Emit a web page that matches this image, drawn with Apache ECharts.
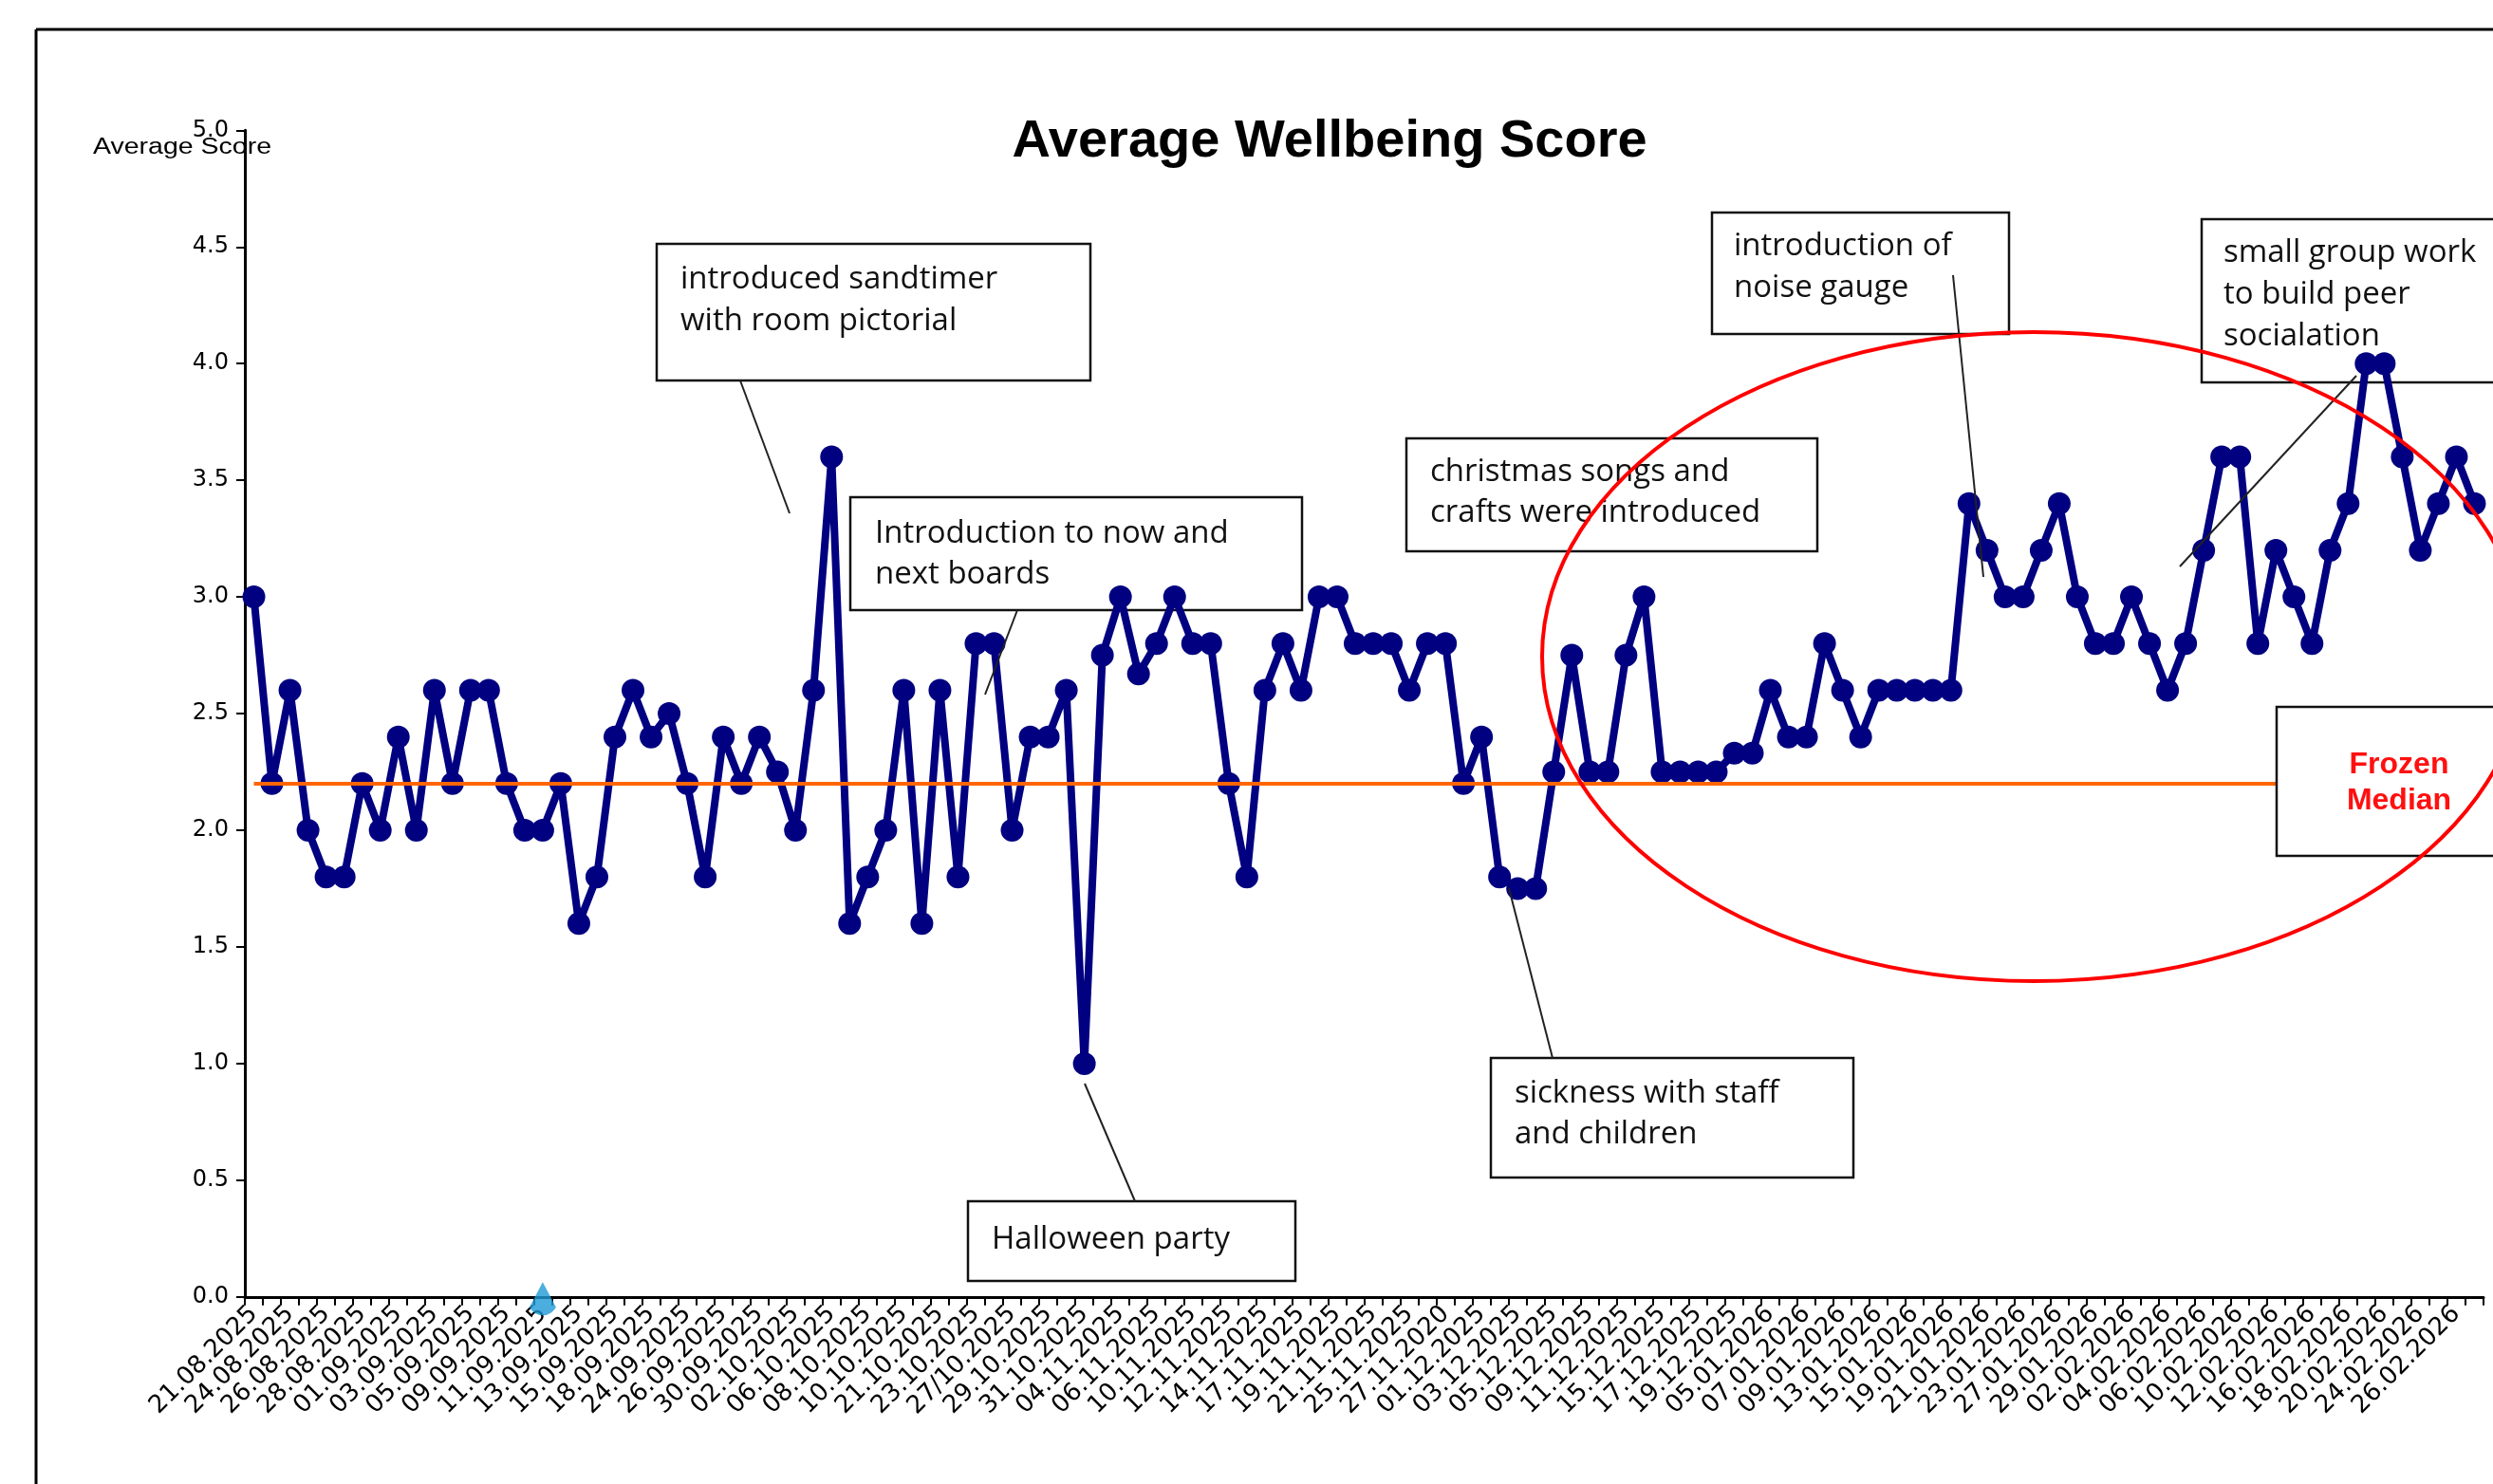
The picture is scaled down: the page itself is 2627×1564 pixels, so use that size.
<!DOCTYPE html>
<html><head><meta charset="utf-8">
<script src="https://cdn.jsdelivr.net/npm/echarts@6/dist/echarts.min.js"></script>
<style>html,body{margin:0;padding:0;background:#fff}#c{width:2627px;height:1564px}</style>
</head><body><div id="c"></div>
<script>
// ---------------- data ----------------
const chartTitle = 'Average Wellbeing Score';
const yAxisTitle = 'Average Score';
// labels shown on every second category (Excel skipped the others)
const tickLabels = [
 '21.08.2025','24.08.2025','26.08.2025','28.08.2025','01.09.2025','03.09.2025','05.09.2025','09.09.2025',
 '11.09.2025','13.09.2025','15.09.2025','18.09.2025','24.09.2025','26.09.2025','30.09.2025','02.10.2025',
 '06.10.2025','08.10.2025','10.10.2025','21.10.2025','23.10.2025','27/10.2025','29.10.2025','31.10.2025',
 '04.11.2025','06.11.2025','10.11.2025','12.11.2025','14.11.2025','17.11.2025','19.11.2025','21.11.2025',
 '25.11.2025','27.11.2020','01.12.2025','03.12.2025','05.12.2025','09.12.2025','11.12.2025','15.12.2025',
 '17.12.2025','19.12.2025','05.01.2026','07.01.2026','09.01.2026','13.01.2026','15.01.2026','19.01.2026',
 '21.01.2026','23.01.2026','27.01.2026','29.01.2026','02.02.2026','04.02.2026','06.02.2026','10.02.2026',
 '12.02.2026','16.02.2026','18.02.2026','20.02.2026','24.02.2026','26.02.2026'
];
const scores = [
 3.0,2.2,2.6,2.0,1.8,1.8,2.2,2.0,2.4,2.0,
 2.6,2.2,2.6,2.6,2.2,2.0,2.0,2.2,1.6,1.8,
 2.4,2.6,2.4,2.5,2.2,1.8,2.4,2.2,2.4,2.25,
 2.0,2.6,3.6,1.6,1.8,2.0,2.6,1.6,2.6,1.8,
 2.8,2.8,2.0,2.4,2.4,2.6,1.0,2.75,3.0,2.67,
 2.8,3.0,2.8,2.8,2.2,1.8,2.6,2.8,2.6,3.0,
 3.0,2.8,2.8,2.8,2.6,2.8,2.8,2.2,2.4,1.8,
 1.75,1.75,2.25,2.75,2.25,2.25,2.75,3.0,2.25,2.25,
 2.25,2.25,2.33,2.33,2.6,2.4,2.4,2.8,2.6,2.4,
 2.6,2.6,2.6,2.6,2.6,3.4,3.2,3.0,3.0,3.2,
 3.4,3.0,2.8,2.8,3.0,2.8,2.6,2.8,3.2,3.6,
 3.6,2.8,3.2,3.0,2.8,3.2,3.4,4.0,4.0,3.6,
 3.2,3.4,3.6,3.4
];
const medianValue = 2.2;
const medianEndIndex = 112;
const flagIndex = 16;
const yMin = 0, yMax = 5, yInterval = 0.5;
const notes = [
 ['introduced sandtimer','with room pictorial'],
 ['Introduction to now and','next boards'],
 ['Halloween party'],
 ['christmas songs and','crafts were introduced'],
 ['sickness with staff','and children'],
 ['introduction of','noise gauge'],
 ['small group work','to build peer','socialation']
];
const medianNote = ['Frozen','Median'];

// categories: one per data point, labels on the even ones
const categories = [];
tickLabels.forEach(l => { categories.push(l); categories.push(''); });
categories.length = scores.length;

// ---------------- graphics ----------------
const G = [];
function gLine(x1,y1,x2,y2,stroke,w,z){G.push({type:'line',z:z,silent:true,shape:{x1,y1,x2,y2},style:{stroke:stroke,lineWidth:w}});}
function gRect(x,y,w,h,z){G.push({type:'rect',z:z,z2:0,silent:true,shape:{x,y,width:w,height:h},style:{fill:'#fff',stroke:'#111',lineWidth:2.5}});}
function gText(x,y,t,font,fill,align,z,sx){G.push({type:'text',z:z,z2:10,silent:true,x:x,y:y,scaleX:sx||1,style:{text:t,font:font,fill:fill,align:align,textAlign:align,verticalAlign:'middle',textVerticalAlign:'middle'}});}
const noteFont = '33px "Open Sans"';
function note(x1,y1,x2,y2,lines,tx,b0,lh,z){
  gRect(x1,y1,x2-x1,y2-y1,z);
  lines.forEach((t,i)=>gText(tx,b0+i*lh-8,t,noteFont,'#111','left',z));
}
// chart area border
gLine(38,31,2640,31,'#000',3,0);
gLine(38,31,38,1570,'#000',3,0);
// title
gText(1401,150,chartTitle,'bold 56px "Liberation Sans"','#000','center',10);
// y axis title
gText(192,156,yAxisTitle,'23px "Liberation Sans"','#000','center',10,1.24);
// notes
note(692,257,1149,401,notes[0],717,303,44,1);
note(896,524,1372,643,notes[1],922,571,43,1);
note(1020,1266,1365,1350,notes[2],1045,1315,43,1);
note(1482,462,1915,581,notes[3],1507,506,43,1);
note(1571,1115,1953,1241,notes[4],1596,1161,43,1);
note(1804,224,2117,352,notes[5],1827,268,44,1);
note(2320,231,2680,403,notes[6],2343,275,44,1);
// frozen median box
gRect(2399,745,300,157,6);
gText(2528,817-11,medianNote[0],'bold 32px "Liberation Sans"','#FF1010','center',6);
gText(2528,855-11,medianNote[1],'bold 32px "Liberation Sans"','#FF1010','center',6);
// connectors
gLine(780,401,832,541,'#222',2,10);
gLine(1072,643,1038,732,'#222',2,10);
gLine(1196,1266,1143,1142,'#222',2,10);
gLine(1636,1115,1590,936,'#222',2,10);
gLine(2058,290,2090,608,'#222',2,10);
gLine(2483,396,2297,597,'#222',2,10);
// red ellipse
G.push({type:'ellipse',z:20,silent:true,shape:{cx:2143,cy:692,rx:518,ry:342},style:{fill:null,stroke:'#FF0000',lineWidth:4}});

const chart = echarts.init(document.getElementById('c'), null, {renderer:'canvas'});
chart.setOption({
  animation:false,
  backgroundColor:'#fff',
  grid:{left:258,right:10,top:137.3,bottom:197.2,containLabel:false,outerBoundsMode:'none'},
  xAxis:{
    type:'category', data:categories, boundaryGap:true,
    axisLine:{show:true,lineStyle:{color:'#000',width:3}},
    axisTick:{show:true,interval:0,length:9,lineStyle:{color:'#000',width:2}},
    axisLabel:{interval:1,rotate:45,margin:14,color:'#000',fontSize:26,fontFamily:'DejaVu Sans'},
    splitLine:{show:false}
  },
  yAxis:{
    type:'value', min:yMin, max:yMax, interval:yInterval,
    axisLine:{show:true,lineStyle:{color:'#000',width:3}},
    axisTick:{show:true,length:9,lineStyle:{color:'#000',width:2}},
    axisLabel:{show:true,margin:17,color:'#000',fontSize:24,fontFamily:'DejaVu Sans',formatter:v=>v.toFixed(1)},
    splitLine:{show:false}
  },
  series:[
    {
      type:'line', name:'Average Score', data:scores,
      symbol:'circle', symbolSize:24, showSymbol:true, showAllSymbol:true,
      lineStyle:{color:'#000080',width:8},
      itemStyle:{color:'#000080'},
      emphasis:{disabled:true},
      z:2,
      markLine:{
        silent:true, symbol:['none','none'], z:5,
        label:{show:false},
        lineStyle:{color:'#FF6600',width:4,type:'solid'},
        emphasis:{disabled:true},
        data:[[{coord:[0,medianValue]},{coord:[medianEndIndex,medianValue]}]]
      }
    },
    {
      type:'scatter', data:[[flagIndex,0]], clip:false, z:10,
      symbol:'path://M50,0 L92,78 A48,48 0 0 1 8,78 Z',
      symbolSize:[28,35], symbolOffset:[0,2],
      itemStyle:{color:'#1E9AD6'}, emphasis:{disabled:true}, silent:true
    }
  ],
  graphic:{elements:G}
});
</script></body></html>
